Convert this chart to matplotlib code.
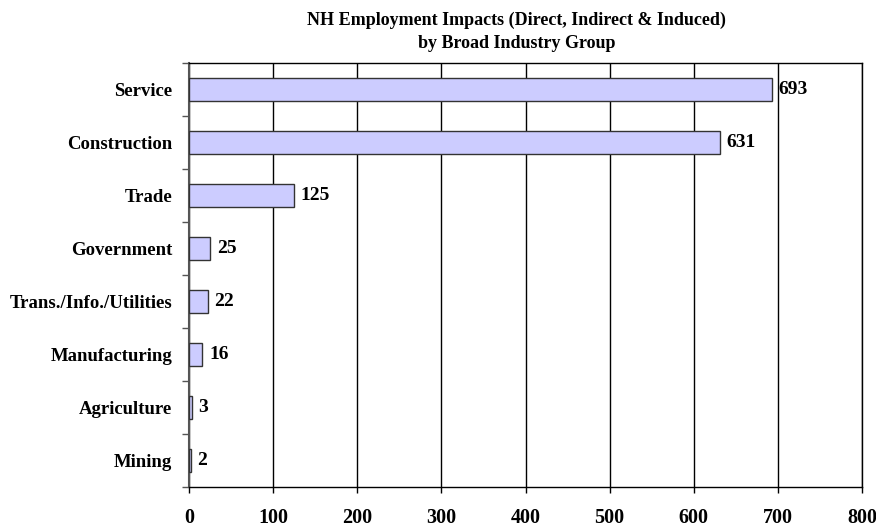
import numpy as np
import matplotlib
matplotlib.use("Agg")
import matplotlib.pyplot as plt

# data
industries = ["Service", "Construction", "Trade", "Government",
              "Trans./Info./Utilities", "Manufacturing", "Agriculture", "Mining"]
jobs = [693, 631, 125, 25, 22, 16, 3, 2]
xticks = [0, 100, 200, 300, 400, 500, 600, 700, 800]

plt.rcParams["font.family"] = ["Liberation Serif", "DejaVu Serif"]
plt.rcParams["font.weight"] = "bold"

fig = plt.figure(figsize=(8.76, 5.27), dpi=100)
ax = fig.add_axes([0.2158, 0.0759, 0.7682, 0.8046])

y = np.arange(len(industries))
ax.barh(y, jobs, height=0.45, color="#ccccff", edgecolor="#333333",
        linewidth=1, zorder=3)

for yi, v in zip(y, jobs):
    ax.text(v + 8, yi, str(v), va="center", ha="left",
            fontsize=14, fontweight="bold", zorder=4)

ax.set_xlim(0, 800)
ax.set_ylim(len(industries) - 0.5, -0.5)
ax.set_xticks(xticks)
ax.set_xticklabels([str(t) for t in xticks], fontsize=14.5, fontweight="bold")
ax.set_yticks(y)
ax.set_yticklabels(industries, fontsize=13.5, fontweight="bold")

# category separator ticks like Excel
ax.set_yticks(np.arange(-0.5, len(industries)), minor=True)
ax.tick_params(axis="y", which="major", length=0, pad=12)
ax.tick_params(axis="y", which="minor", length=5, width=1, color="#555555")
ax.tick_params(axis="x", which="major", length=4, width=1, pad=11)

ax.grid(axis="x", color="black", linewidth=1, zorder=0)
for s in ax.spines.values():
    s.set_color("black")
    s.set_linewidth(1)
ax.spines["left"].set_color("#555555")
ax.spines["left"].set_linewidth(1.5)

fig.text(0.59, 0.978, "NH Employment Impacts (Direct, Indirect & Induced)\nby Broad Industry Group",
         ha="center", va="top", fontsize=13, fontweight="bold", linespacing=1.5)

fig.savefig("out.png", dpi=100)
